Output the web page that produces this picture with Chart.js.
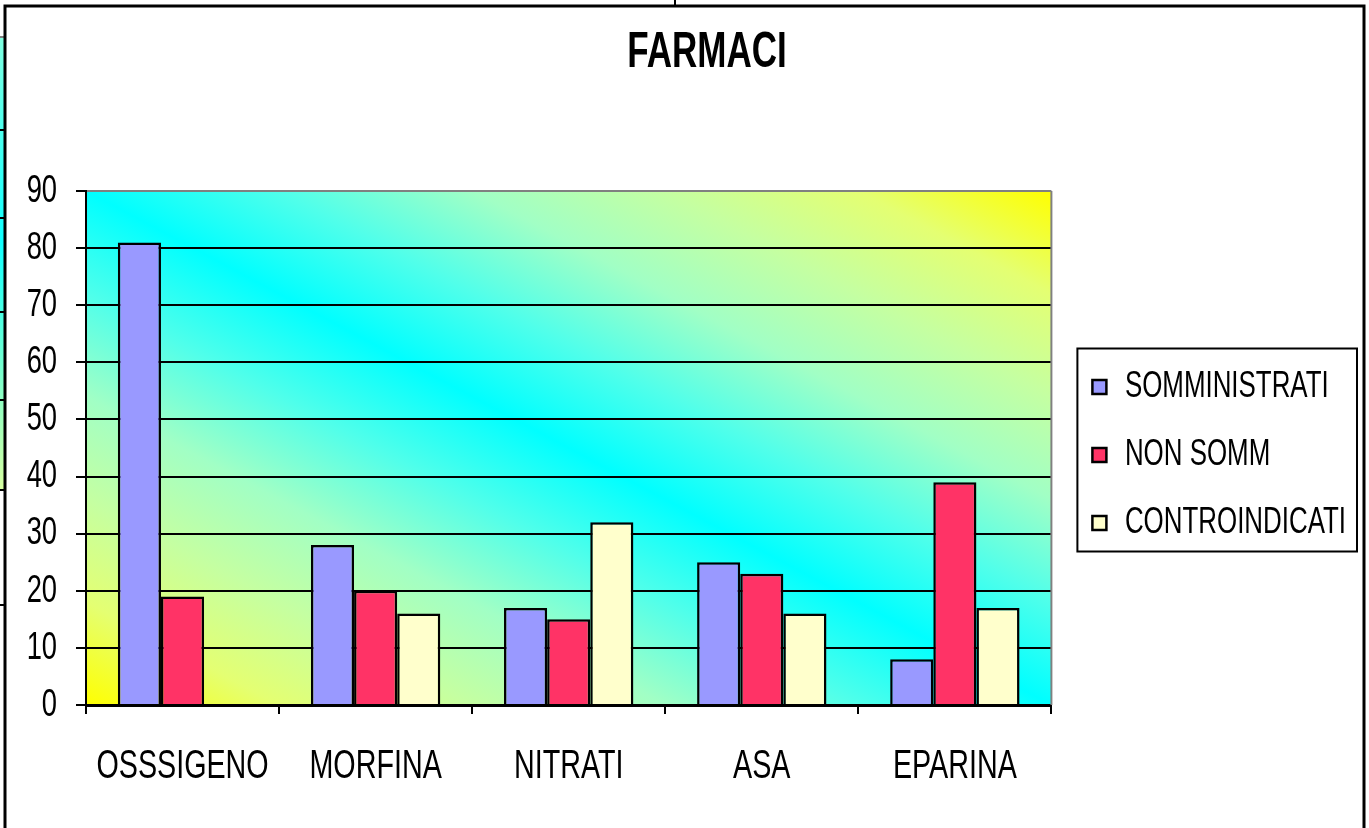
<!DOCTYPE html>
<html>
<head>
<meta charset="utf-8">
<title>FARMACI</title>
<script src="https://cdn.jsdelivr.net/npm/chart.js@4.4.1/dist/chart.umd.min.js"></script>
<style>
  html, body { margin: 0; padding: 0; background: #fff; }
  canvas { display: block; }
</style>
</head>
<body>
<canvas id="farmaci" width="1369" height="828"></canvas>
<script>
const categories = ['OSSSIGENO', 'MORFINA', 'NITRATI', 'ASA', 'EPARINA'];
const somministrati = [81, 28, 17, 25, 8];
const nonSomm = [19, 20, 15, 23, 39];
const controindicati = [0, 16, 32, 16, 17];
const yTicks = [0, 10, 20, 30, 40, 50, 60, 70, 80, 90];

const FONT = "'Liberation Sans', Arial, sans-serif";
const NARROW = 0.70; // condensed lettering, like the old spreadsheet export

const canvas = document.getElementById('farmaci');
const ctx = canvas.getContext('2d');

// squeeze every label horizontally around its anchor point
const rawFill = ctx.fillText.bind(ctx);
const rawMeasure = ctx.measureText.bind(ctx);
ctx.fillText = function (text, x, y) {
    this.save();
    this.translate(x, y);
    this.scale(NARROW, 1);
    rawFill(text, 0, 0);
    this.restore();
};
ctx.measureText = function (text) {
    const m = rawMeasure(text);
    return {
        width: m.width * NARROW,
        actualBoundingBoxLeft: m.actualBoundingBoxLeft * NARROW,
        actualBoundingBoxRight: m.actualBoundingBoxRight * NARROW,
        actualBoundingBoxAscent: m.actualBoundingBoxAscent,
        actualBoundingBoxDescent: m.actualBoundingBoxDescent
    };
};

// yellow -> cyan -> yellow, with the soft pale greens in between
const washStops = [
    [0, '#ffff00'], [0.1, '#e4ff72'], [0.2, '#c5ffa1'], [0.3, '#a1ffc5'], [0.4, '#50ffea'],
    [0.5, '#00ffff'],
    [0.6, '#50ffea'], [0.7, '#a1ffc5'], [0.8, '#c5ffa1'], [0.9, '#e4ff72'], [1, '#ffff00']
];

const plotBackground = {
    id: 'plotBackground',
    afterLayout(chart) {
        // nudge title and legend to where they sat in the original sheet
        chart.titleBlock.left += 34;
        chart.titleBlock.right += 34;
        chart.legend.left += 10;
        chart.legend.right += 10;
        chart.legend.top += 7;
        chart.legend.bottom += 7;
    },
    beforeDraw(chart) {
        const c = chart.ctx;
        const a = chart.chartArea;
        c.save();
        c.fillStyle = '#fff';
        c.fillRect(0, 0, chart.width, chart.height);
        c.translate(a.left, a.top);
        c.scale(a.right - a.left, a.bottom - a.top);
        const g = c.createLinearGradient(0, 1, 1, 0);
        washStops.forEach(([t, col]) => g.addColorStop(t, col));
        c.fillStyle = g;
        c.fillRect(0, 0, 1, 1);
        c.restore();
    },
    beforeDatasetsDraw(chart) {
        const c = chart.ctx;
        const a = chart.chartArea;
        c.save();
        c.strokeStyle = '#808080';
        c.lineWidth = 2;
        c.beginPath();
        c.moveTo(a.right, a.top);
        c.lineTo(a.right, a.bottom);
        c.stroke();
        c.restore();
    }
};

// legend frame plus the outer border of the chart object
const frames = {
    id: 'frames',
    afterDraw(chart) {
        const c = chart.ctx;
        const boxes = chart.legend.legendHitBoxes;
        let x0 = Infinity, y0 = Infinity, x1 = -Infinity, y1 = -Infinity;
        boxes.forEach(b => {
            x0 = Math.min(x0, b.left);
            y0 = Math.min(y0, b.top);
            x1 = Math.max(x1, b.left + b.width);
            y1 = Math.max(y1, b.top + b.height);
        });
        c.save();
        c.strokeStyle = '#000';
        c.lineWidth = 2;
        c.strokeRect(x0 - 15, y0 - 20, x1 - x0 + 26, y1 - y0 + 30);

        // piece of the neighbouring chart peeking in on the left
        const g = c.createLinearGradient(0, 37, 0, 490);
        g.addColorStop(0, '#80ffe0');
        g.addColorStop(0.45, '#10ffff');
        g.addColorStop(1, '#d8ffa0');
        c.fillStyle = g;
        c.fillRect(0, 37, 4, 453);
        c.fillStyle = '#808080';
        c.fillRect(0, 36, 4, 2);
        c.fillStyle = '#000';
        [130, 218, 312, 400, 490, 605].forEach(y => c.fillRect(0, y - 1, 4, 2));

        c.lineWidth = 3;
        c.beginPath();
        c.moveTo(5, chart.height);
        c.lineTo(5, 6);
        c.lineTo(1364, 6);
        c.lineTo(1364, chart.height);
        c.stroke();
        c.lineWidth = 2;
        c.beginPath();
        c.moveTo(675, 0);
        c.lineTo(675, 6);
        c.stroke();
        c.restore();
    }
};

Chart.defaults.color = '#000';
Chart.defaults.font.family = FONT;

new Chart(ctx, {
    type: 'bar',
    data: {
        labels: categories,
        datasets: [
            { label: 'SOMMINISTRATI', data: somministrati, backgroundColor: '#9999ff' },
            { label: 'NON SOMM', data: nonSomm, backgroundColor: '#ff3366' },
            { label: 'CONTROINDICATI', data: controindicati, backgroundColor: '#ffffcc' }
        ]
    },
    options: {
        responsive: false,
        animation: false,
        events: [],
        layout: { padding: { left: 0, right: 23, top: 0, bottom: 0 } },
        datasets: {
            bar: {
                borderColor: '#000',
                borderWidth: 2.5,
                categoryPercentage: 0.67,
                barPercentage: 1
            }
        },
        scales: {
            x: {
                grid: {
                    offset: true,
                    drawOnChartArea: false,
                    color: '#000',
                    lineWidth: 2,
                    tickLength: 9
                },
                border: { color: '#000', width: 3 },
                ticks: { font: { size: 41 }, padding: 28, maxRotation: 0, autoSkip: false },
                afterFit(scale) { scale.height = 123; }
            },
            y: {
                min: 0,
                max: 90,
                afterBuildTicks(scale) { scale.ticks = yTicks.map(v => ({ value: v })); },
                grid: {
                    color: c => (c.tick && c.tick.value === 90 ? '#808080' : '#000'),
                    tickColor: '#000',
                    lineWidth: 2,
                    tickLength: 10
                },
                border: { color: '#000', width: 2 },
                ticks: { font: { size: 39 }, padding: 19 },
                afterFit(scale) { scale.width = 86; }
            }
        },
        plugins: {
            title: {
                display: true,
                text: 'FARMACI',
                font: { size: 50, weight: 'bold' },
                padding: { top: 23, bottom: 108 }
            },
            legend: {
                position: 'right',
                fullSize: false,
                labels: {
                    boxWidth: 14,
                    boxHeight: 14,
                    padding: 31,
                    font: { size: 37 }
                }
            },
            tooltip: { enabled: false }
        }
    },
    plugins: [plotBackground, frames]
});
</script>
</body>
</html>
